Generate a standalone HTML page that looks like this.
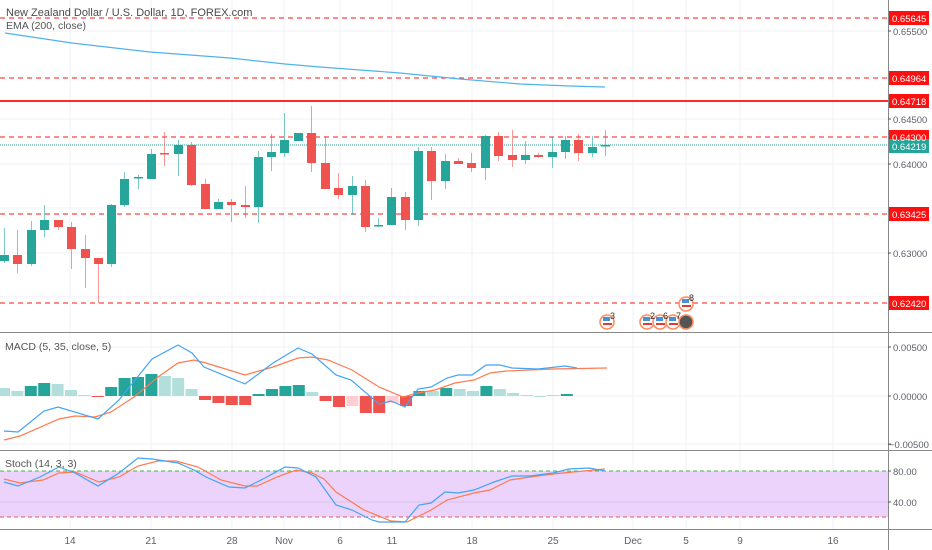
<!DOCTYPE html>
<html><head><meta charset="utf-8"><style>
html,body{margin:0;padding:0;background:#fff;}
svg{display:block;font-family:"Liberation Sans",sans-serif;}
</style></head><body>
<svg id="s" width="932" height="550" viewBox="0 0 932 550" xmlns="http://www.w3.org/2000/svg">
<g id="grid" stroke="#eef1f6" stroke-width="1">
<line x1="70" y1="0" x2="70" y2="529"/><line x1="151" y1="0" x2="151" y2="529"/><line x1="232" y1="0" x2="232" y2="529"/><line x1="284" y1="0" x2="284" y2="529"/><line x1="340" y1="0" x2="340" y2="529"/><line x1="392" y1="0" x2="392" y2="529"/><line x1="472" y1="0" x2="472" y2="529"/><line x1="553" y1="0" x2="553" y2="529"/><line x1="633" y1="0" x2="633" y2="529"/><line x1="686" y1="0" x2="686" y2="529"/><line x1="740" y1="0" x2="740" y2="529"/><line x1="833" y1="0" x2="833" y2="529"/>
<line x1="0" y1="31" x2="888" y2="31"/><line x1="0" y1="119" x2="888" y2="119"/><line x1="0" y1="164" x2="888" y2="164"/><line x1="0" y1="208" x2="888" y2="208"/><line x1="0" y1="253" x2="888" y2="253"/><line x1="0" y1="297" x2="888" y2="297"/>
<line x1="0" y1="347" x2="888" y2="347"/><line x1="0" y1="396" x2="888" y2="396"/><line x1="0" y1="444" x2="888" y2="444"/>
</g>
<rect x="0" y="471" width="888" height="46" fill="#ebd3fb"/>
<line x1="0" y1="502" x2="888" y2="502" stroke="#d8c2ee"/>
<line x1="0" y1="471" x2="888" y2="471" stroke="#4caf50" stroke-dasharray="4,3"/>
<line x1="0" y1="517" x2="888" y2="517" stroke="#ef5350" stroke-dasharray="4,3"/>
<g stroke="#f44" stroke-width="1.2" stroke-dasharray="5,4">
<line x1="0" y1="18" x2="888" y2="18"/><line x1="0" y1="78" x2="888" y2="78"/><line x1="0" y1="137" x2="888" y2="137"/><line x1="0" y1="214" x2="888" y2="214"/><line x1="0" y1="303" x2="888" y2="303"/>
</g>
<line x1="0" y1="101" x2="888" y2="101" stroke="#ff2a2a" stroke-width="2"/>
<line x1="0" y1="145" x2="888" y2="145" stroke="#26a69a" stroke-width="1" stroke-dasharray="1,1"/>
<polyline fill="none" stroke="#4fb3ea" stroke-width="1.2" points="5,33 72,43 150,52 230,58 285,64 320,67 400,73 460,79 520,84 570,86 605,87"/>
<g id="candles"></g>
<g id="hist"></g>
<polyline fill="none" stroke="#ff7a50" stroke-width="1.2" points="4,440 20,436 59,419 75,416 95,417 111,412 134,397 158,377 178,363 194,360 206,363 245,375 273,367 298,358 312,357 328,360 352,370 379,387 403,397 418,393 435,390 455,383 474,380 490,373 506,371 553,369 607,368"/>
<polyline fill="none" stroke="#42a5f5" stroke-width="1.2" points="4,431 18,432 44,411 58,407 98,419 119,400 152,359 178,345 192,353 204,367 245,384 273,363 298,348 312,354 336,375 351,380 379,404 391,401 405,407 418,389 431,387 447,378 458,375 472,375 486,365 500,365 512,368 538,369 565,366 577,368"/>
<polyline fill="none" stroke="#ff7a50" stroke-width="1.2" points="4,479 20,483 43,480 59,473 75,472 99,482 119,477 138,466 158,461 176,461 198,467 221,480 245,486 257,486 277,477 296,470 312,473 324,479 336,492 364,510 391,521 407,522 431,510 447,500 474,493 490,490 510,480 530,477 553,474 573,472 605,469"/>
<polyline fill="none" stroke="#42a5f5" stroke-width="1.2" points="4,482 18,486 40,477 59,467 75,473 98,486 119,473 138,458 152,459 178,463 194,470 206,477 229,487 245,488 265,478 285,467 298,468 316,477 336,505 352,510 372,520 379,522 395,522 405,522 419,505 431,503 445,492 458,493 474,490 494,482 512,476 530,476 553,473 569,469 589,468 605,471"/>
<g stroke="#ff8a5c" stroke-width="1.5" fill="#fff">
<circle cx="607" cy="322" r="7"/><circle cx="647" cy="322" r="7"/><circle cx="660" cy="322" r="7"/><circle cx="673" cy="322" r="7"/><circle cx="686" cy="322" r="7" fill="#555"/><circle cx="686" cy="304" r="7"/>
</g>
<g fill="#4a90d9"><rect x="603" y="317" width="7" height="4"/><rect x="643" y="317" width="7" height="4"/><rect x="656" y="317" width="7" height="4"/><rect x="669" y="317" width="7" height="4"/><rect x="682" y="299" width="7" height="4"/></g>
<g fill="#e53935"><rect x="603" y="323" width="9" height="2"/><rect x="643" y="323" width="9" height="2"/><rect x="656" y="323" width="9" height="2"/><rect x="669" y="323" width="9" height="2"/><rect x="682" y="305" width="9" height="2"/></g>
<g font-size="9" fill="#333"><text x="610" y="319">3</text><text x="650" y="319">2</text><text x="663" y="319">6</text><text x="676" y="319">7</text><text x="689" y="301">8</text></g>
<line x1="0" y1="332.5" x2="932" y2="332.5" stroke="#888" stroke-width="1"/>
<line x1="0" y1="450.5" x2="932" y2="450.5" stroke="#888" stroke-width="1"/>
<line x1="0" y1="529.5" x2="932" y2="529.5" stroke="#888" stroke-width="1"/>
<line x1="888.5" y1="0" x2="888.5" y2="550" stroke="#888" stroke-width="1"/>
<text x="6" y="16" font-size="11" fill="#4a4a4a">New Zealand Dollar / U.S. Dollar, 1D, FOREX.com</text>
<text x="6" y="29" font-size="10.5" fill="#555">EMA (200, close)</text>
<text x="5" y="350" font-size="10.5" fill="#555">MACD (5, 35, close, 5)</text>
<text x="5" y="467" font-size="10.5" fill="#555">Stoch (14, 3, 3)</text>
<g font-size="9.5" fill="#5d606b">
<text x="893" y="35">0.65500</text><text x="893" y="123">0.64500</text><text x="893" y="168">0.64000</text><text x="893" y="257">0.63000</text>
<text x="893" y="351">0.00500</text><text x="893" y="400">0.00000</text><text x="889" y="448">−0.00500</text>
<text x="893" y="475">80.00</text><text x="893" y="506">40.00</text>
</g>
<g stroke="#555"><line x1="888" y1="31" x2="891" y2="31"/><line x1="888" y1="119" x2="891" y2="119"/><line x1="888" y1="164" x2="891" y2="164"/><line x1="888" y1="253" x2="891" y2="253"/><line x1="888" y1="347" x2="891" y2="347"/><line x1="888" y1="396" x2="891" y2="396"/><line x1="888" y1="444" x2="891" y2="444"/><line x1="888" y1="471" x2="891" y2="471"/><line x1="888" y1="502" x2="891" y2="502"/></g>
<g fill="#ff1010"><rect x="889" y="11" width="40" height="14"/><rect x="889" y="71" width="40" height="14"/><rect x="889" y="94" width="40" height="14"/><rect x="889" y="130" width="40" height="14"/><rect x="889" y="207" width="40" height="14"/><rect x="889" y="296" width="40" height="14"/></g>
<rect x="889" y="139" width="40" height="14" fill="#26a69a"/>
<g font-size="9.5" fill="#fff"><text x="892" y="22">0.65645</text><text x="892" y="82">0.64964</text><text x="892" y="105">0.64718</text><text x="892" y="141">0.64300</text><text x="892" y="150">0.64219</text><text x="892" y="218">0.63425</text><text x="892" y="307">0.62420</text></g>
<g font-size="10" fill="#5d606b" text-anchor="middle">
<text x="70" y="544">14</text><text x="151" y="544">21</text><text x="232" y="544">28</text><text x="284" y="544">Nov</text><text x="340" y="544">6</text><text x="392" y="544">11</text><text x="472" y="544">18</text><text x="553" y="544">25</text><text x="633" y="544">Dec</text><text x="686" y="544">5</text><text x="740" y="544">9</text><text x="833" y="544">16</text>
</g>
<script>
(function(){
var NS="http://www.w3.org/2000/svg";
function el(t,a,p){var e=document.createElementNS(NS,t);for(var k in a)e.setAttribute(k,a[k]);p.appendChild(e);}
var c=[[4,261,255,228,263],[17,255,264,230,273],[31,264,230,221,266],[44,230,220,205,237],[58,220,227,220,230],[71,227,249,222,269],[85,249,258,235,288],[98,258,264,258,303],[111,264,205,204,267],[124,205,179,172,207],[138,178,177,175,189],[151,179,154,149,179],[164,153,154,132,166],[178,154,145,140,176],[191,145,185,142,186],[205,184,209,179,209],[218,209,202,199,209],[231,202,205,199,222],[245,205,207,186,218],[258,207,157,151,223],[271,157,152,134,171],[284,153,140,113,157],[298,141,133,133,141],[311,133,163,106,172],[325,163,189,136,189],[338,188,195,173,199],[352,195,186,176,215],[365,186,227,180,232],[378,226,225,218,227],[391,225,197,188,225],[405,197,220,192,230],[418,220,151,147,226],[431,151,181,147,200],[445,181,161,154,189],[458,161,164,158,164],[471,163,168,153,172],[485,168,136,135,180],[498,136,156,132,161],[512,155,160,130,167],[525,160,155,141,164],[538,155,157,153,158],[552,157,152,137,168],[565,152,140,136,159],[578,140,153,134,161],[592,153,147,136,157],[605,146,145,130,156]];
var g=document.getElementById("candles");
c.forEach(function(d){var up=d[2]<=d[1];var col=up?"#26a69a":"#ef5350";
el("line",{x1:d[0]+.5,x2:d[0]+.5,y1:d[3],y2:d[4],stroke:col,"stroke-opacity":.6},g);
var t=Math.min(d[1],d[2]),h=Math.max(1.5,Math.abs(d[1]-d[2]));
el("rect",{x:d[0]-4,y:t,width:9,height:h,fill:col},g);});
var hs=[[388,"L"],[391,"L"],[386,"D"],[383,"D"],[384,"L"],[390,"L"],[395,"L"],[397,"R"],[387,"D"],[378,"D"],[377,"D"],[374,"D"],[376,"L"],[378,"L"],[389,"L"],[400,"R"],[403,"R"],[405,"R"],[405,"R"],[394,"D"],[389,"D"],[386,"D"],[385,"D"],[392,"L"],[401,"R"],[407,"R"],[406,"P"],[413,"R"],[413,"R"],[403,"P"],[406,"R"],[391,"D"],[391,"L"],[388,"D"],[389,"L"],[391,"L"],[386,"D"],[389,"L"],[393,"L"],[395,"L"],[396,"L"],[395,"L"],[394,"D"]];
var cm={L:"#b2dfdb",D:"#26a69a",R:"#ef5350",P:"#ffcdd2"};
var hg=document.getElementById("hist");
hs.forEach(function(d,i){var x=4+13.4*i;var t=Math.min(d[0],396),h=Math.max(1,Math.abs(d[0]-396));
el("rect",{x:x-6,y:t,width:12,height:h,fill:cm[d[1]]},hg);});
})();
</script>
</svg>
</body></html>
